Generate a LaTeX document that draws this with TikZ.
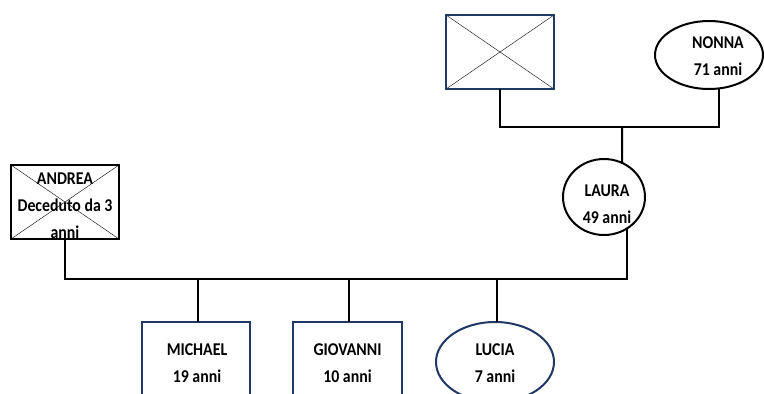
\documentclass[tikz,border=0pt]{standalone}
\usepackage{fontspec}
\setmainfont{Carlito}
\newfontfamily\tagfont[FakeStretch=0.88]{Carlito}
\usetikzlibrary{shapes.geometric}
\definecolor{navy}{RGB}{32,56,100}

\begin{document}
\begin{tikzpicture}[
            x=1pt, y=-1pt,
            box/.style={draw, rectangle, line width=2.4pt, inner sep=0pt, outer sep=0pt},
            oval/.style={draw, ellipse, line width=2pt, inner sep=0pt, outer sep=0pt},
            link/.style={line width=2pt},
            txt/.style={align=center, inner sep=0pt, font=\tagfont\fontsize{18}{27}\selectfont\bfseries}
        ]
            \useasboundingbox[fill=white] (0,0) rectangle (764,394);

            % grandparents
            \node[box, draw=navy, minimum width=108pt, minimum height=74pt] (nonno) at (500,52) {};
            \draw[thin] (nonno.north west) -- (nonno.south east) (nonno.south west) -- (nonno.north east);
            \node[box, draw=navy, minimum width=108pt, minimum height=74pt] at (500,52) {};
            \node[oval, minimum width=108pt, minimum height=68pt] (nonna) at (709,55) {};
            \node[txt] at (718,56) {NONNA\\71 anni};

            % parents
            \node[oval, minimum width=82pt, minimum height=76pt] (laura) at (604,197) {};
            \node[txt] at (607,204) {LAURA\\49 anni};
            \node[box, minimum width=108pt, minimum height=74pt] (andrea) at (65,202) {};
            \draw[thin] (andrea.north west) -- (andrea.south east) (andrea.south west) -- (andrea.north east);
            \node[txt] at (65,206) {ANDREA\\Deceduto da 3\\anni};

            % children
            \node[box, draw=navy, minimum width=108pt, minimum height=80pt] (michael) at (196,362) {};
            \node[txt] at (197,363) {MICHAEL\\19 anni};
            \node[box, draw=navy, minimum width=109pt, minimum height=80pt] (giovanni) at (347.5,362) {};
            \node[txt] at (347.5,363) {GIOVANNI\\10 anni};
            \node[oval, draw=navy, minimum width=118pt, minimum height=80pt] (lucia) at (495,362) {};
            \node[txt] at (495,363) {LUCIA\\7 anni};

            \coordinate (top) at (622,127);
            \coordinate (mid) at (400,279);
            \draw[link] (nonno.south) |- (top) -| ([xshift=10pt]nonna.south);
            \draw[link] (top) -- (laura.62);
            \draw[link] (andrea.south) |- (laura.306 |- mid) -- (laura.306);
            \foreach \kid in {michael, giovanni, lucia}
                \draw[link] ([xshift=1.5pt]\kid.north |- mid) -- ([xshift=1.5pt]\kid.north);

        \end{tikzpicture}
\end{document}
